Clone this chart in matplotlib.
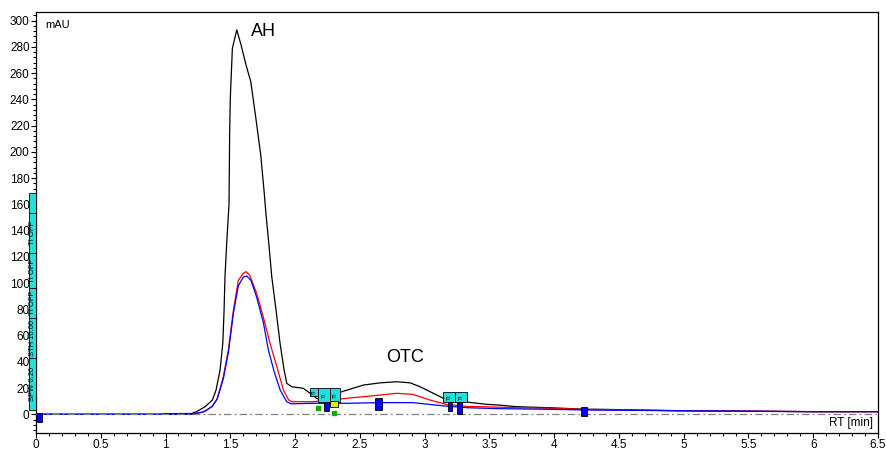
import matplotlib
matplotlib.use("Agg")
import matplotlib.pyplot as plt
from matplotlib.patches import Rectangle
from matplotlib.ticker import MultipleLocator

plt.rcParams['font.family'] = ['Liberation Sans', 'DejaVu Sans']

# ---- data (RT in min, signal in mAU) ----
black_rt = [0.0, 0.95, 1.0, 1.2, 1.24, 1.305, 1.362, 1.39, 1.421, 1.442, 1.452, 1.459, 1.472,
            1.49, 1.495, 1.5, 1.516, 1.55, 1.583, 1.622, 1.658, 1.694, 1.735, 1.761, 1.776,
            1.797, 1.82, 1.853, 1.884, 1.915, 1.936, 1.974, 2.064, 2.116, 2.168, 2.2, 2.3,
            2.36, 2.528, 2.66, 2.785, 2.888, 2.965, 3.094, 3.17, 3.326, 3.48, 3.58, 3.71,
            3.97, 4.25, 4.36, 4.97, 5.5, 6.0, 6.5]
black_mau = [0.0, 0.0, 0.5, 0.6, 2.0, 5.8, 10.9, 18.5, 33.8, 54.1, 79.5, 104.9, 130.3,
             160.0, 215.0, 241.0, 279.0, 293.0, 281.5, 266.0, 253.5, 228.0, 197.6, 169.7, 151.9,
             130.3, 104.9, 79.5, 54.1, 33.8, 23.6, 21.0, 19.8, 16.0, 12.0, 11.5, 14.5,
             17.2, 22.3, 24.0, 24.8, 24.0, 21.0, 14.7, 10.9, 9.3, 7.6, 7.0, 5.8,
             5.0, 3.8, 3.8, 2.7, 2.3, 2.0, 2.0]

red_rt = [0.0, 1.2, 1.28, 1.317, 1.36, 1.395, 1.42, 1.446, 1.485, 1.524, 1.562, 1.6, 1.622,
          1.65, 1.704, 1.755, 1.807, 1.859, 1.91, 1.95, 1.974, 2.064, 2.14, 2.27, 2.4, 2.66,
          2.785, 2.91, 3.04, 3.17, 3.33, 3.45, 3.71, 3.97, 4.22, 4.56, 5.0, 5.5, 6.0, 6.5]
red_mau = [0.0, 0.0, 1.5, 3.3, 6.0, 11.0, 19.0, 28.7, 49.0, 79.5, 102.0, 107.5, 108.7,
           106.0, 92.0, 74.0, 54.0, 36.3, 18.5, 11.0, 9.6, 9.6, 9.6, 10.9, 12.2, 14.7,
           16.0, 15.2, 10.9, 7.5, 6.0, 5.8, 5.0, 4.6, 3.8, 3.3, 2.7, 2.5, 2.0, 2.0]

blue_rt = [0.0, 1.2, 1.3, 1.36, 1.4, 1.446, 1.485, 1.524, 1.562, 1.6, 1.627, 1.66, 1.704,
           1.755, 1.794, 1.84, 1.885, 1.935, 1.97, 2.14, 2.4, 2.66, 2.91, 3.09, 3.17, 3.33,
           3.58, 3.97, 4.22, 4.6, 5.0, 5.5, 6.0, 6.5]
blue_mau = [0.0, 0.0, 2.0, 6.0, 12.0, 27.0, 47.0, 77.0, 98.0, 104.5, 105.4, 102.0, 89.0,
            70.0, 49.0, 32.0, 18.5, 9.6, 8.0, 8.4, 8.4, 8.9, 8.9, 7.0, 6.2, 5.0,
            4.3, 3.8, 3.3, 3.0, 2.7, 2.4, 2.0, 2.0]

peak_labels = ["AH", "OTC"]
peak_label_rt = [1.757, 2.846]
peak_label_mau = [291.6, 43.3]

x_ticks = [0, 0.5, 1, 1.5, 2, 2.5, 3, 3.5, 4, 4.5, 5, 5.5, 6, 6.5]
x_tick_labels = ["0", "0.5", "1", "1.5", "2", "2.5", "3", "3.5", "4", "4.5", "5", "5.5", "6", "6.5"]
y_ticks = [0, 20, 40, 60, 80, 100, 120, 140, 160, 180, 200, 220, 240, 260, 280, 300]

# integration event markers: (rt_start, rt_end, mau_low, mau_high, colour)
events = [
    (0.005, 0.044, -5.6, 0.8, '#0000ff'),
    (2.224, 2.263, 2.7, 9.6, '#0000ff'),
    (2.27, 2.33, 5.8, 10.0, '#e6e600'),
    (2.62, 2.67, 3.3, 12.4, '#0000ff'),
    (3.18, 3.21, 2.7, 9.6, '#0000ff'),
    (3.25, 3.29, 0.2, 9.6, '#0000ff'),
    (4.21, 4.25, -1.3, 5.8, '#0000ff'),
]
event_boxes = [  # cyan timetable boxes
    (2.116, 2.18, 13.6, 20.0),
    (2.18, 2.27, 9.4, 20.0),
    (2.27, 2.35, 9.4, 20.0),
    (3.14, 3.235, 9.6, 17.2),
    (3.235, 3.33, 9.6, 17.2),
]
green_rt = [2.18, 2.30]
green_mau = [4.6, 0.8]

# ---- figure ----
W, H = 886, 451
fig = plt.figure(figsize=(W / 100, H / 100), dpi=100)
ax = fig.add_axes([36 / W, 1 - 433 / H, 842 / W, 421 / H])

ax.plot(black_rt, black_mau, color='#000000', lw=0.9, zorder=3)
ax.plot(red_rt, red_mau, color='#ff0000', lw=0.9, zorder=4)
ax.plot(blue_rt, blue_mau, color='#0000ff', lw=0.9, zorder=5)
ax.axhline(0, color='#808080', lw=0.9, dashes=(6, 2.5, 1.5, 2.5), zorder=6)

for (x0, x1, y0, y1) in event_boxes:
    ax.add_patch(Rectangle((x0, y0), x1 - x0, y1 - y0, facecolor='#22e0e0',
                           edgecolor='#000000', lw=0.6, zorder=7))
    ax.text((x0 + x1) / 2, (y0 + y1) / 2, "TI", fontsize=4.5, rotation=90,
            ha='center', va='center', zorder=8, color='#000000')
for (x0, x1, y0, y1, c) in events:
    ax.add_patch(Rectangle((x0, y0), x1 - x0, y1 - y0, facecolor=c,
                           edgecolor='#000000', lw=0.6, zorder=9, clip_on=False))
ax.scatter(green_rt, green_mau, s=6, color='#00b000', zorder=9, marker='s')

for lab, x, y in zip(peak_labels, peak_label_rt, peak_label_mau):
    ax.text(x, y, lab, fontsize=13, ha='center', va='center', zorder=10)

ax.set_xlim(0, 6.5)
ax.set_ylim(-14.25, 306.6)
ax.set_xticks(x_ticks)
ax.set_xticklabels(x_tick_labels)
ax.set_yticks(y_ticks)
ax.xaxis.set_minor_locator(MultipleLocator(0.1))
ax.yaxis.set_minor_locator(MultipleLocator(4))
ax.tick_params(axis='both', which='major', labelsize=8.5, direction='out', length=3.6,
               width=0.8, pad=0.5)
ax.tick_params(axis='both', which='minor', direction='out', length=2, width=0.8)
ax.tick_params(axis='y', pad=1)
for s in ax.spines.values():
    s.set_linewidth(0.9)
    s.set_color('#000000')

ax.text(9 / 842, 1 - 13 / 421, "mAU", transform=ax.transAxes, fontsize=8,
        ha='left', va='center')
ax.text(1 - 5 / 842, 10 / 421, "RT [min]", transform=ax.transAxes, fontsize=8.5,
        ha='right', va='center')

# left vertical timetable label (cyan)
seg_texts = ["SPW 0.20", "STH 10.00", "TI OFF", "TI OFF", "TI OFF"]
seg_bounds = [410, 358, 318, 288, 253, 213]
for i, t in enumerate(seg_texts):
    ybot, ytop = seg_bounds[i], seg_bounds[i + 1]
    fig.patches.append(Rectangle((29 / W, 1 - ybot / H), 7 / W, (ybot - ytop) / H,
                                 transform=fig.transFigure, facecolor='#22e0e0',
                                 edgecolor='#000000', lw=0.6, zorder=20))
    fig.text(32.5 / W, 1 - (ybot + ytop) / 2 / H, t, rotation=90, fontsize=5.5,
             ha='center', va='center', zorder=21, clip_on=False)
fig.patches.append(Rectangle((29 / W, 1 - 213 / H), 7 / W, 20 / H,
                             transform=fig.transFigure, facecolor='#22e0e0',
                             edgecolor='#000000', lw=0.6, zorder=20))

fig.savefig("out.png", dpi=100)
